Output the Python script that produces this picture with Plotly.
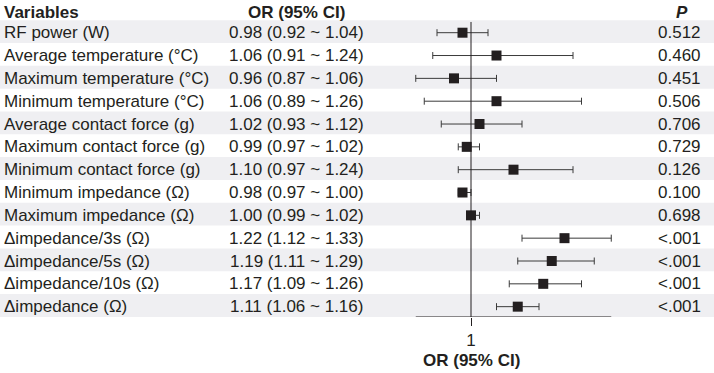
import plotly.graph_objects as go

variables = [
    "RF power (W)",
    "Average temperature (°C)",
    "Maximum temperature (°C)",
    "Minimum temperature (°C)",
    "Average contact force (g)",
    "Maximum contact force (g)",
    "Minimum contact force (g)",
    "Minimum impedance (Ω)",
    "Maximum impedance (Ω)",
    "Δimpedance/3s (Ω)",
    "Δimpedance/5s (Ω)",
    "Δimpedance/10s (Ω)",
    "Δimpedance (Ω)",
]
or_values = [0.98, 1.06, 0.96, 1.06, 1.02, 0.99, 1.10, 0.98, 1.00, 1.22, 1.19, 1.17, 1.11]
ci_lower = [0.92, 0.91, 0.87, 0.89, 0.93, 0.97, 0.97, 0.97, 0.99, 1.12, 1.11, 1.09, 1.06]
ci_upper = [1.04, 1.24, 1.06, 1.26, 1.12, 1.02, 1.24, 1.00, 1.02, 1.33, 1.29, 1.26, 1.16]
p_values = ["0.512", "0.460", "0.451", "0.506", "0.706", "0.729", "0.126",
            "0.100", "0.698", "<.001", "<.001", "<.001", "<.001"]
x_ticks = [1]
x_tick_labels = ["1"]

W, H = 714, 373
TXT = "#231f20"
BAND = "#efeff2"
FONT = "Liberation Sans, Arial, Helvetica, sans-serif"
FS = 17

n = len(variables)
rows = list(range(n))
ci_text = [f"{o:.2f} ({l:.2f} ~ {u:.2f})" for o, l, u in zip(or_values, ci_lower, ci_upper)]

# pixel mapping helpers (layout only)
x_px_one, x_k = 471.0, 425.0
x_range = [1 - x_px_one / x_k, 1 + (W - x_px_one) / x_k]
plot_h = 317.0
row0_px, row_step = 32.7, 22.83
y_top = -row0_px / row_step
y_bot = (plot_h - row0_px) / row_step
header_y = (12 - row0_px) / row_step

fig = go.Figure()

fig.add_trace(go.Scatter(
    x=or_values, y=rows, mode="markers",
    marker=dict(symbol="square", size=10, color=TXT),
    error_x=dict(type="data", symmetric=False,
                 array=[u - o for u, o in zip(ci_upper, or_values)],
                 arrayminus=[o - l for o, l in zip(or_values, ci_lower)],
                 color="#3a3a3a", thickness=1, width=3.5),
    hoverinfo="skip", showlegend=False, cliponaxis=False,
))

shapes = []
for i in rows:
    if i % 2 == 0:
        shapes.append(dict(type="rect", xref="paper", yref="y", x0=0, x1=1,
                           y0=i - 0.55, y1=i + 0.45, fillcolor=BAND,
                           line=dict(width=0), layer="below"))
shapes.append(dict(type="line", xref="x", yref="y", x0=1, x1=1,
                   y0=-0.47, y1=y_bot, line=dict(color=TXT, width=1)))
shapes.append(dict(type="line", xref="x", yref="y", x0=min(ci_lower), x1=max(ci_upper),
                   y0=y_bot, y1=y_bot, line=dict(color=TXT, width=1)))

ann = []
ann.append(dict(text="<b>Variables</b>", x=2 / W, y=header_y, xanchor="left"))
ann.append(dict(text="<b>OR (95% CI)</b>", x=296 / W, y=header_y, xanchor="center"))
ann.append(dict(text="<b><i>P</i></b>", x=682 / W, y=header_y, xanchor="center"))
for i in rows:
    ann.append(dict(text=variables[i], x=2 / W, y=i, xanchor="left"))
    ann.append(dict(text=ci_text[i], x=296 / W, y=i, xanchor="center"))
    ann.append(dict(text=p_values[i], x=703 / W, y=i, xanchor="right"))
for a in ann:
    a.update(xref="paper", yref="y", yanchor="middle", showarrow=False,
             font=dict(family=FONT, size=FS, color=TXT))
ann.append(dict(text="<b>OR (95% CI)</b>", xref="x", yref="paper", x=1,
                y=(plot_h - 360) / plot_h, xanchor="center", yanchor="middle",
                showarrow=False, font=dict(family=FONT, size=FS, color=TXT)))

fig.update_layout(
    width=W, height=H,
    margin=dict(l=0, r=0, t=0, b=H - plot_h, pad=0),
    paper_bgcolor="white", plot_bgcolor="white",
    shapes=shapes, annotations=ann,
    xaxis=dict(range=x_range, showgrid=False, zeroline=False, showline=False,
               tickmode="array", tickvals=x_ticks, ticktext=x_tick_labels,
               ticks="outside", ticklen=8, tickcolor=TXT, tickwidth=1,
               tickfont=dict(family=FONT, size=FS, color=TXT), fixedrange=True),
    yaxis=dict(range=[y_bot, y_top], showgrid=False, zeroline=False,
               showline=False, showticklabels=False, fixedrange=True),
    font=dict(family=FONT, color=TXT),
)

fig.write_html("out.html", config={"displayModeBar": False},
               post_script="document.body.style.margin='0';document.body.style.overflow='hidden';")
